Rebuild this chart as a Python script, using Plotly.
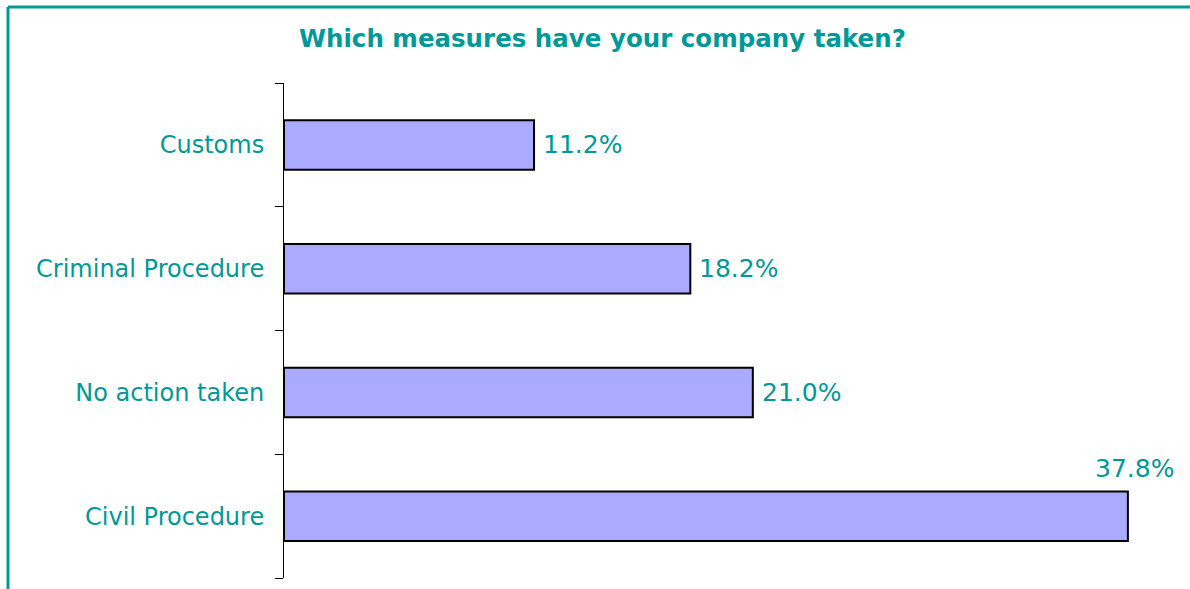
import plotly.graph_objects as go

categories = ["Civil Procedure", "No action taken", "Criminal Procedure", "Customs"]
values = [37.8, 21.0, 18.2, 11.2]
labels = ["37.8%", "21.0%", "18.2%", "11.2%"]
title_text = "Which measures have your company taken?"

TEAL = "#009999"
FONT = "DejaVu Sans"

W, H = 1190, 589
ML, MR, MT, MB = 284, 13, 83, 11
PW = W - ML - MR
PH = H - MT - MB

fig = go.Figure()
fig.add_trace(go.Bar(
    x=values, y=categories, orientation="h",
    marker=dict(color="#AAAAFF", line=dict(color="black", width=2)),
    width=0.4, hoverinfo="skip",
))

annotations = []
for c, v, t in zip(categories, values, labels):
    if v == max(values):
        annotations.append(dict(x=v, y=c, xref="x", yref="y", text=t, showarrow=False,
                                xanchor="center", yanchor="middle", xshift=7, yshift=48,
                                font=dict(family=FONT, size=25, color=TEAL)))
    else:
        annotations.append(dict(x=v, y=c, xref="x", yref="y", text=t, showarrow=False,
                                xanchor="left", yanchor="middle", xshift=7,
                                font=dict(family=FONT, size=25, color=TEAL)))

annotations.append(dict(x=(602 - ML) / PW, y=1 + (MT - 38) / PH, xref="paper", yref="paper",
                        text="<b>" + title_text + "</b>", showarrow=False,
                        xanchor="center", yanchor="middle",
                        font=dict(family=FONT, size=24.5, color=TEAL)))

bx = (8 - ML) / PW
by = 1 + (MT - 7) / PH
shapes = [
    dict(type="line", xref="paper", yref="paper", x0=bx, x1=bx, y0=by, y1=-0.1,
         line=dict(color=TEAL, width=3)),
    dict(type="line", xref="paper", yref="paper", x0=bx, x1=1.2, y0=by, y1=by,
         line=dict(color=TEAL, width=3)),
]

fig.update_layout(
    width=W, height=H,
    margin=dict(l=ML, r=MR, t=MT, b=MB),
    paper_bgcolor="white", plot_bgcolor="white",
    showlegend=False,
    annotations=annotations, shapes=shapes,
    font=dict(family=FONT, color=TEAL),
)
fig.update_xaxes(range=[0, 40], visible=False, showgrid=False, zeroline=False)
fig.update_yaxes(type="category", showline=True, linecolor="black", linewidth=1,
                 ticks="outside", tickson="boundaries", ticklen=8, tickcolor="black",
                 showgrid=False, ticklabelstandoff=14,
                 tickfont=dict(family=FONT, size=24, color=TEAL))

fig.write_html("out.html", config={"displayModeBar": False},
               post_script="document.body.style.margin='0';document.body.style.overflow='hidden';")
